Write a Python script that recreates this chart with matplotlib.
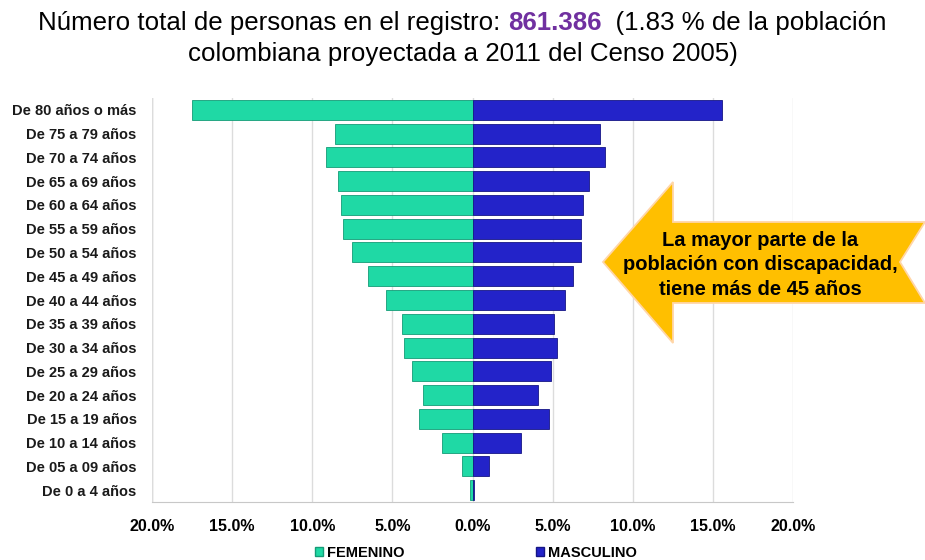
import numpy as np
import matplotlib.pyplot as plt
from matplotlib.patches import Polygon, Patch

# ── Data (percent of registered population) ────────────────────────────────
age_groups = ['De 80 años o más', 'De 75 a 79 años', 'De 70 a 74 años',
              'De 65 a 69 años', 'De 60 a 64 años', 'De 55 a 59 años',
              'De 50 a 54 años', 'De 45 a 49 años', 'De 40 a 44 años',
              'De 35 a 39 años', 'De 30 a 34 años', 'De 25 a 29 años',
              'De 20 a 24 años', 'De 15 a 19 años', 'De 10 a 14 años',
              'De 05 a 09 años', 'De 0 a 4 años']
femenino = [17.5, 8.6, 9.15, 8.4, 8.2, 8.1, 7.5, 6.5, 5.4,
            4.4, 4.25, 3.8, 3.1, 3.35, 1.9, 0.65, 0.15]
masculino = [15.6, 7.95, 8.25, 7.25, 6.9, 6.8, 6.75, 6.3, 5.75,
             5.1, 5.3, 4.9, 4.1, 4.8, 3.0, 1.0, 0.12]
x_ticks = [-20, -15, -10, -5, 0, 5, 10, 15, 20]

teal = '#1fd9a5'
blue = '#2323c9'
gold = '#ffbf00'

plt.rcParams['font.family'] = ['Liberation Sans', 'DejaVu Sans']

fig = plt.figure(figsize=(9.25, 5.6), dpi=100)
W, H = 925, 560
ax = fig.add_axes([152 / W, 1 - 502 / H, (793 - 152) / W, (502 - 98) / H])

y = np.arange(len(age_groups))
ax.barh(y, [-v for v in femenino], height=0.84, color=teal,
        edgecolor='#159c77', linewidth=0.6, zorder=3)
ax.barh(y, masculino, height=0.84, color=blue,
        edgecolor='#161685', linewidth=0.6, zorder=3)

ax.set_xlim(-20, 20)
ax.set_ylim(len(age_groups) - 0.5, -0.5)
ax.set_xticks(x_ticks)
ax.set_xticklabels([f'{abs(t):.1f}%' for t in x_ticks],
                   fontsize=11.5, fontweight='heavy')
ax.set_yticks(y)
ax.set_yticklabels(age_groups, fontsize=10.5, fontweight='bold',
                   color='#1a1a1a')
ax.tick_params(axis='x', length=0, pad=12)
ax.tick_params(axis='y', length=0, pad=11)
ax.grid(axis='x', color='#dcdcdc', linewidth=1, zorder=0)
for s in ['top', 'right', 'left']:
    ax.spines[s].set_visible(False)
ax.spines['bottom'].set_color('#c8c8c8')
ax.axvline(-20, color='#d0d0d0', linewidth=1, zorder=1)

# Legend
handles = [Patch(facecolor=teal, edgecolor='#159c77'),
           Patch(facecolor=blue, edgecolor='#161685')]
fig.legend(handles, ['FEMENINO', 'MASCULINO'], loc='center',
           bbox_to_anchor=(476 / W, 1 - 553 / H), ncol=2, frameon=False,
           prop={'weight': 'heavy', 'size': 10.5}, handlelength=0.55,
           handleheight=0.55, handletextpad=0.3, columnspacing=9.0,
           borderpad=0.2)

# Title with highlighted number
fig.canvas.draw()
r = fig.canvas.get_renderer()
ts = 18.6
parts = [('Número total de personas en el registro: ', 'normal', 'black'),
         ('861.386', 'bold', '#7030a0'),
         ('  (1.83 % de la población', 'normal', 'black')]
texts = []
for s, w, c in parts:
    t = fig.text(0, 1 - 23 / H, s, fontsize=ts, fontweight=w, color=c,
                 va='center', ha='left')
    texts.append(t)
widths = [t.get_window_extent(r).width for t in texts]
x0 = (W - sum(widths)) / 2
for t, w in zip(texts, widths):
    t.set_x(x0 / W)
    x0 += w
fig.text(0.5, 1 - 54 / H, 'colombiana proyectada a 2011 del Censo 2005)',
         fontsize=ts, ha='center', va='center')

# Callout arrow
pts = [(603, 262), (673, 182), (673, 222), (925, 222), (900, 262),
       (925, 303), (673, 303), (673, 343)]
arrow = Polygon([(px / W, 1 - py / H) for px, py in pts], closed=True,
                transform=fig.transFigure, facecolor=gold,
                edgecolor='#ffd6a8', linewidth=1.3, zorder=5)
fig.patches.append(arrow)
fig.text(760 / W, 1 - 265 / H,
         'La mayor parte de la\npoblación con discapacidad,\ntiene más de 45 años',
         fontsize=14.5, fontweight='bold', ha='center', va='center',
         linespacing=1.35, zorder=6)

fig.savefig('out.png', dpi=100)
